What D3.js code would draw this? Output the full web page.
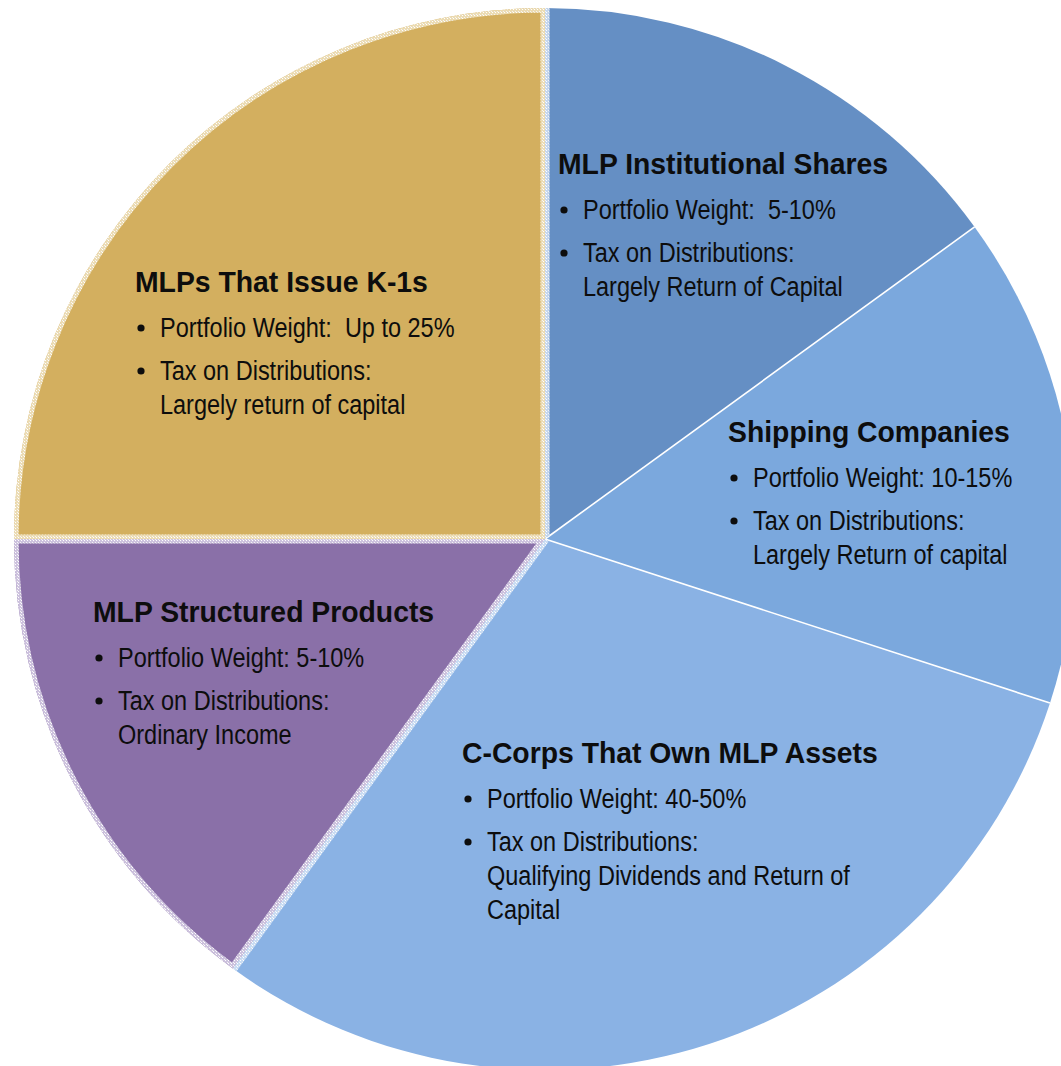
<!DOCTYPE html>
<html>
<head>
<meta charset="utf-8">
<style>
  html, body { margin: 0; padding: 0; background: #fff; }
  svg { display: block; }
  text { font-family: "Liberation Sans", Arial, Helvetica, sans-serif; fill: #0d0d0d; white-space: pre; }
  .title { font-weight: bold; font-size: 30px; }
  .item { font-size: 27px; }
</style>
</head>
<body>
<svg id="chart" width="1061" height="1066"></svg>
<script src="https://cdn.jsdelivr.net/npm/d3@7/dist/d3.min.js"></script>
<script>
// slices, clockwise from 12 o'clock
var categories = ["MLP Institutional Shares", "Shipping Companies", "C-Corps That Own MLP Assets",
                  "MLP Structured Products", "MLPs That Issue K-1s"];
var weights = [15, 15, 30, 15, 25];
var weightText = ["Portfolio Weight:  5-10%", "Portfolio Weight: 10-15%", "Portfolio Weight: 40-50%",
                  "Portfolio Weight: 5-10%", "Portfolio Weight:  Up to 25%"];
var taxText = [
  ["Tax on Distributions:", "Largely Return of Capital"],
  ["Tax on Distributions:", "Largely Return of capital"],
  ["Tax on Distributions:", "Qualifying Dividends and Return of", "Capital"],
  ["Tax on Distributions:", "Ordinary Income"],
  ["Tax on Distributions:", "Largely return of capital"]
];

var colors = ["#658fc4", "#7ba8dd", "#8ab2e4", "#8a70a8", "#d3af5f"];
var tints = ["#c4d6ee", "#c4d6ee", "#c9dcf3", "#cdc2de", "#ecdcb4"];

// where each text block starts (x of title, baseline of title)
var labelPos = [[558, 174], [728, 442], [462, 763], [93, 622], [135, 292]];
var titleScale = 0.945, itemScale = 0.87;

var svg = d3.select("#chart");
var cx = 545, cy = 539, r = 531;
var g = svg.append("g").attr("transform", "translate(" + cx + "," + cy + ")");

var pie = d3.pie().sort(null).value(function(d){ return d; });
var arcs = pie(weights);
var arc = d3.arc().innerRadius(0).outerRadius(r);

// dotted light pattern for the textured borders
var defs = svg.append("defs");
tints.forEach(function(t, i){
  var p = defs.append("pattern").attr("id", "pat" + i)
    .attr("width", 3).attr("height", 3).attr("patternUnits", "userSpaceOnUse");
  p.append("rect").attr("width", 3).attr("height", 3).attr("fill", t);
  p.append("rect").attr("x", 1).attr("y", 1).attr("width", 1).attr("height", 1).attr("fill", "#fff");
  p.append("rect").attr("x", 0).attr("y", 0).attr("width", 1).attr("height", 1).attr("fill", "#f4f4f4");
});
arcs.forEach(function(a, i){
  defs.append("clipPath").attr("id", "clip" + i).append("path").attr("d", arc(a));
});

g.selectAll("path.slice").data(arcs).enter().append("path")
  .attr("class", "slice")
  .attr("d", arc)
  .attr("fill", function(d, i){ return colors[i]; });

// radial edge end point for an angle
function edge(angle){
  return [Math.sin(angle) * r, -Math.cos(angle) * r];
}

// thin white lines between the blue slices
[arcs[0].endAngle, arcs[1].endAngle].forEach(function(a){
  var p = edge(a);
  g.append("line").attr("x1", 0).attr("y1", 0).attr("x2", p[0]).attr("y2", p[1])
    .attr("stroke", "#fff").attr("stroke-width", 1.6);
});

// textured inner border on the two left slices
[3, 4].forEach(function(i){
  g.append("path").attr("d", arc(arcs[i]))
    .attr("fill", "none")
    .attr("stroke", "url(#pat" + i + ")")
    .attr("stroke-width", 9)
    .attr("stroke-linejoin", "miter")
    .attr("clip-path", "url(#clip" + i + ")");
});
// textured strip on the blue side of those edges
[[0, arcs[0].startAngle], [2, arcs[2].endAngle]].forEach(function(e){
  var p = edge(e[1]);
  g.append("line").attr("x1", 0).attr("y1", 0).attr("x2", p[0]).attr("y2", p[1])
    .attr("stroke", "url(#pat" + e[0] + ")").attr("stroke-width", 9)
    .attr("clip-path", "url(#clip" + e[0] + ")");
});

// labels
var labels = svg.append("g");
categories.forEach(function(c, i){
  var x = labelPos[i][0], y = labelPos[i][1];
  var blk = labels.append("g").attr("transform", "translate(" + x + "," + y + ")");
  blk.append("text").attr("class", "title")
    .attr("transform", "scale(" + titleScale + ",1)").text(c);
  var lines = [[weightText[i]], taxText[i]];
  var yy = 45;
  lines.forEach(function(ls){
    blk.append("circle").attr("cx", 6).attr("cy", yy - 9).attr("r", 3.6).attr("fill", "#0d0d0d");
    ls.forEach(function(t, k){
      blk.append("text").attr("class", "item")
        .attr("transform", "translate(25," + (yy + k * 34) + ") scale(" + itemScale + ",1)")
        .text(t);
    });
    yy += 43;
  });
});
</script>
</body>
</html>
